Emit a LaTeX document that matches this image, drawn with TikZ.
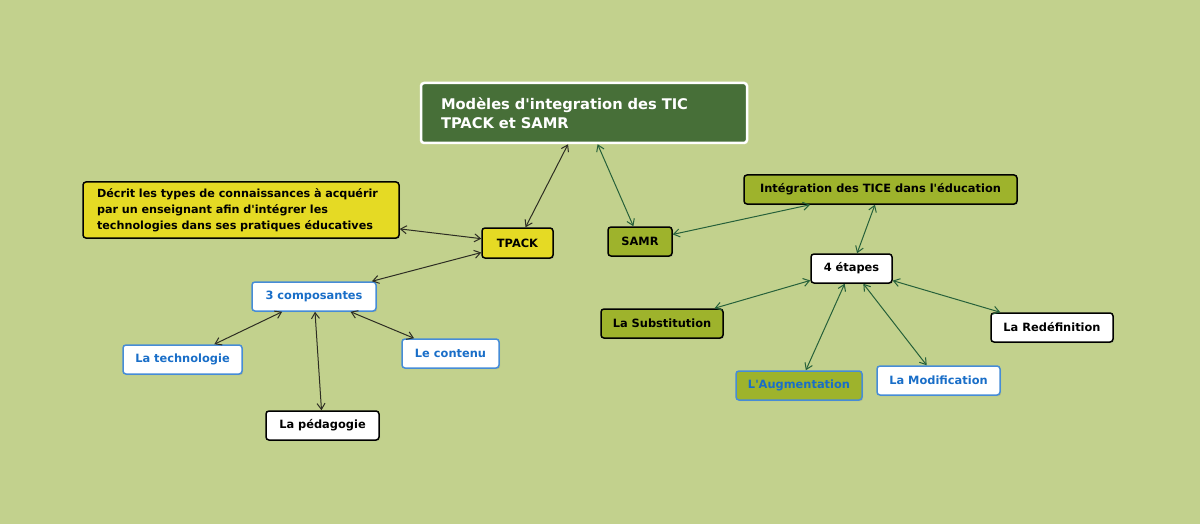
\documentclass[tikz,border=0pt]{standalone}
\usepackage{fontspec}
\setmainfont{DejaVu Sans}
\usetikzlibrary{arrows.meta,shadows}

\definecolor{fond}{RGB}{194,209,141}
\definecolor{vertfonce}{RGB}{71,111,56}
\definecolor{olive}{RGB}{158,179,44}
\definecolor{jaune}{RGB}{229,218,36}
\definecolor{bleu}{RGB}{70,140,215}
\definecolor{bleutexte}{RGB}{25,110,200}
\definecolor{lienvert}{RGB}{38,96,58}
\definecolor{liennoir}{RGB}{45,45,35}

\tikzset{
  boite/.style={draw=black, line width=1.5pt, rounded corners=3pt,
    font=\bfseries\fontsize{11.4}{13}\selectfont, minimum height=29pt, inner sep=2pt,
    drop shadow={shadow xshift=1.2pt, shadow yshift=-1.2pt, opacity=0.25}},
  jauneboite/.style={boite, fill=jaune},
  oliveboite/.style={boite, fill=olive},
  blancboite/.style={boite, fill=white},
  bleuboite/.style={boite, fill=white, draw=bleu, text=bleutexte},
  lien/.style={{Straight Barb[length=6pt,width=8pt]}-{Straight Barb[length=6pt,width=8pt]},
    line width=1pt, draw=liennoir},
  lienv/.style={lien, draw=lienvert}
}

\begin{document}
\begin{tikzpicture}[x=1pt,y=-1pt]
    \fill[fond] (0,0) rectangle (1200,524);
    \useasboundingbox (0,0) rectangle (1200,524);

    % titre
    \node[draw=white, line width=2.5pt, fill=vertfonce, rounded corners=3pt, text=white,
      font=\bfseries\fontsize{14.7}{19}\selectfont, align=left, text width=286pt,
      inner xsep=20pt, minimum height=60pt] (titre) at (584,113)
      {Modèles d\textquotesingle integration des TIC\\TPACK et SAMR};

    % cote TPACK
    \node[jauneboite, align=left, text width=288pt, inner xsep=14pt, minimum height=56pt,
      font=\bfseries\fontsize{11.2}{16}\selectfont] (decrit) at (241,210)
      {Décrit les types de connaissances à acquérir\\par un enseignant afin d\textquotesingle intégrer les\\technologies dans ses pratiques éducatives};
    \node[jauneboite, minimum width=71pt, minimum height=30pt] (tpack) at (517.5,243) {TPACK};
    \node[bleuboite, minimum width=124pt] (compo) at (314,296.5) {3 composantes};
    \node[bleuboite, minimum width=119pt] (techno) at (182.5,359.5) {La technologie};
    \node[bleuboite, minimum width=97pt] (contenu) at (450.5,353.5) {Le contenu};
    \node[blancboite, minimum width=113pt] (peda) at (322.5,425.5) {La pédagogie};

    % cote SAMR
    \node[oliveboite, minimum width=64pt] (samr) at (640,241.5) {SAMR};
    \node[oliveboite, minimum width=273pt] (integ) at (880.5,189.5) {Intégration des TICE dans l\textquotesingle éducation};
    \node[blancboite, minimum width=81pt] (etapes) at (851.5,268.5) {4 étapes};
    \node[oliveboite, draw=bleu, text=bleutexte, minimum width=126pt] (augm) at (799,385.5) {L\textquotesingle Augmentation};
    \node[oliveboite, minimum width=122pt] (subst) at (662,323.5) {La Substitution};
    \node[bleuboite, minimum width=123pt] (modif) at (938.5,380.5) {La Modification};
    \node[blancboite, minimum width=122pt] (redef) at (1052,327.5) {La Redéfinition};

    \draw[lien] (tpack) -- (titre);
    \draw[lienv] (samr) -- (titre);
    \draw[lien] (decrit) -- (tpack);
    \draw[lien] (compo) -- (tpack);
    \draw[lien] (compo) -- (techno);
    \draw[lien] (compo) -- (peda);
    \draw[lien] (compo) -- (contenu);
    \draw[lienv] (samr) -- (integ);
    \draw[lienv] (integ) -- (etapes);
    \draw[lienv] (etapes) -- (subst);
    \draw[lienv] (etapes) -- (augm);
    \draw[lienv] (etapes) -- (modif);
    \draw[lienv] (etapes) -- (redef);
\end{tikzpicture}
\end{document}
